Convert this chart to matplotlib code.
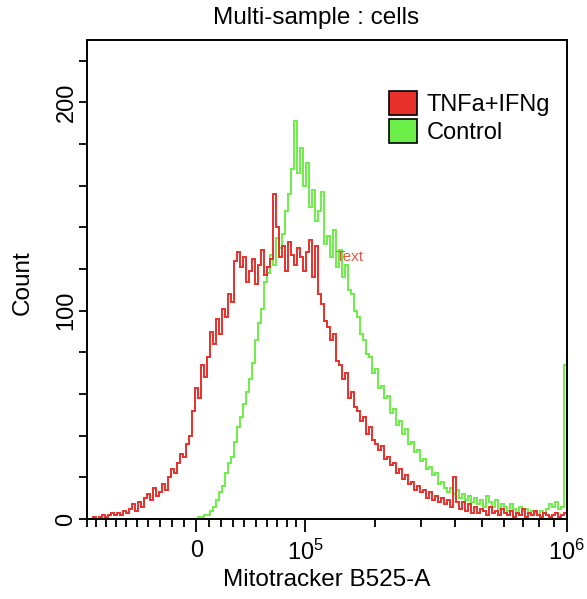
import numpy as np
import matplotlib
matplotlib.use("Agg")
import matplotlib.pyplot as plt
from matplotlib.patches import Patch

plt.rcParams['font.family'] = ['Liberation Sans', 'DejaVu Sans']
plt.rcParams['mathtext.fontset'] = 'custom'
plt.rcParams['mathtext.rm'] = 'Liberation Sans'
plt.rcParams['mathtext.it'] = 'Liberation Sans'

# ---- data ----
title = "Multi-sample : cells"
xlabel = "Mitotracker B525-A"
ylabel = "Count"
series_names = ["TNFa+IFNg", "Control"]

x_min, x_max = -1e5, 1e6
n_bins = 160

tnf_counts = [
    0, 0, 1, 0, 1, 2, 1, 2, 3, 2,
    3, 2, 4, 3, 5, 7, 4, 8, 6, 10,
    12, 9, 15, 11, 13, 17, 14, 20, 24, 22,
    27, 31, 30, 36, 40, 52, 63, 58, 74, 68,
    78, 90, 84, 96, 89, 101, 97, 108, 104, 124,
    128, 121, 126, 114, 119, 125, 113, 122, 129, 117,
    121, 125, 156, 140, 126, 131, 119, 133, 127, 122,
    130, 126, 119, 128, 134, 116, 131, 108, 103, 95,
    92, 86, 89, 76, 74, 67, 70, 58, 61, 54,
    52, 47, 49, 41, 44, 38, 36, 33, 35, 29,
    30, 26, 27, 22, 24, 19, 21, 17, 18, 14,
    16, 13, 14, 10, 13, 9, 11, 8, 10, 7,
    9, 6, 20, 8, 5, 8, 4, 7, 3, 6,
    3, 5, 4, 2, 6, 3, 4, 2, 5, 3,
    2, 4, 1, 3, 2, 5, 1, 3, 2, 4,
    2, 1, 3, 2, 1, 2, 3, 1, 2, 3,
]

control_counts = [
    0, 0, 0, 0, 0, 0, 0, 0, 0, 0,
    0, 0, 0, 0, 0, 0, 0, 0, 0, 0,
    0, 0, 0, 0, 0, 0, 0, 0, 0, 0,
    0, 0, 0, 0, 0, 0, 0, 1, 1, 2,
    2, 4, 6, 9, 13, 16, 22, 27, 30, 37,
    44, 49, 55, 61, 67, 75, 86, 94, 101, 114,
    118, 127, 122, 135, 130, 137, 148, 156, 168, 191,
    166, 178, 160, 171, 150, 158, 143, 148, 157, 132,
    136, 126, 139, 121, 129, 116, 122, 110, 108, 100,
    97, 89, 86, 79, 78, 70, 72, 63, 64, 58,
    59, 51, 53, 45, 47, 41, 43, 36, 37, 32,
    33, 28, 29, 24, 25, 21, 22, 17, 18, 15,
    13, 15, 12, 14, 10, 12, 9, 11, 8, 10,
    7, 9, 6, 11, 8, 6, 9, 5, 7, 6,
    4, 7, 5, 3, 6, 4, 5, 3, 4, 3,
    2, 4, 3, 5, 7, 6, 8, 5, 6, 74,
]

y_major = [0, 100, 200]
y_minor = [20, 40, 60, 80, 120, 140, 160, 180, 220]
x_major = [0, 1e5, 1e6]
x_major_labels = ["0", r"$10^5$", r"$10^6$"]
x_minor = [-1e5, -9e4, -8e4, -7e4, -6e4, -5e4, -4e4, -3e4, -2e4, -1e4,
           1e4, 2e4, 3e4, 4e4, 5e4, 6e4, 7e4, 8e4, 9e4,
           2e5, 3e5, 4e5, 5e5, 6e5, 7e5, 8e5, 9e5]

annot_text = "Text"
annot_x, annot_y = 1.38e5, 126

red = "#E8302A"
green = "#6CEE48"

# ---- scale (arcsinh display transform) ----
cof = 1e5
fwd = lambda x: np.arcsinh(np.asarray(x, dtype=float) / cof)
inv = lambda t: np.sinh(np.asarray(t, dtype=float)) * cof

edges = inv(np.linspace(fwd(x_min), fwd(x_max), n_bins + 1))

fig = plt.figure(figsize=(5.87, 5.99), dpi=100)
ax = fig.add_axes([87.3 / 587, 1 - 519 / 599, (566.7 - 87.3) / 587, (519 - 40) / 599])
ax.set_xscale('function', functions=(fwd, inv))

ax.stairs(control_counts, edges, color=green, linewidth=1.4)
ax.stairs(tnf_counts, edges, color=red, linewidth=1.4)

ax.set_xlim(x_min, x_max)
ax.set_ylim(0, 230)

ax.set_xticks(x_major)
ax.set_xticklabels(x_major_labels)
ax.set_xticks(x_minor, minor=True)
ax.set_yticks(y_major)
ax.set_yticklabels([str(v) for v in y_major], rotation=90, va='center')
ax.set_yticks(y_minor, minor=True)

ax.tick_params(axis='x', which='major', length=9, width=1.3, labelsize=17, pad=6)
ax.tick_params(axis='x', which='minor', length=6, width=1.3)
ax.tick_params(axis='y', which='both', length=6, width=1.3, labelsize=17, pad=1)
for s in ax.spines.values():
    s.set_linewidth(1.4)

ax.text(annot_x, annot_y, annot_text, color="#E05545", fontsize=11, va='center', ha='left')

fig.text(316 / 587, 1 - 18 / 599, title, ha='center', va='center', fontsize=17.5)
fig.text(327 / 587, 1 - 580 / 599, xlabel, ha='center', va='center', fontsize=17.5)
fig.text(23 / 587, 1 - 283 / 599, ylabel, ha='center', va='center', rotation=90, fontsize=17.5)

handles = [Patch(facecolor=red, edgecolor='black', linewidth=1.2),
           Patch(facecolor=green, edgecolor='black', linewidth=1.2)]
fig.legend(handles, series_names, loc='upper left',
           bbox_to_anchor=(372 / 587, 1 - 74 / 599), frameon=False,
           fontsize=17, handlelength=1.2, handleheight=1.2,
           handletextpad=0.4, labelspacing=0.15, borderpad=0.2)

fig.savefig("out.png", dpi=100)
